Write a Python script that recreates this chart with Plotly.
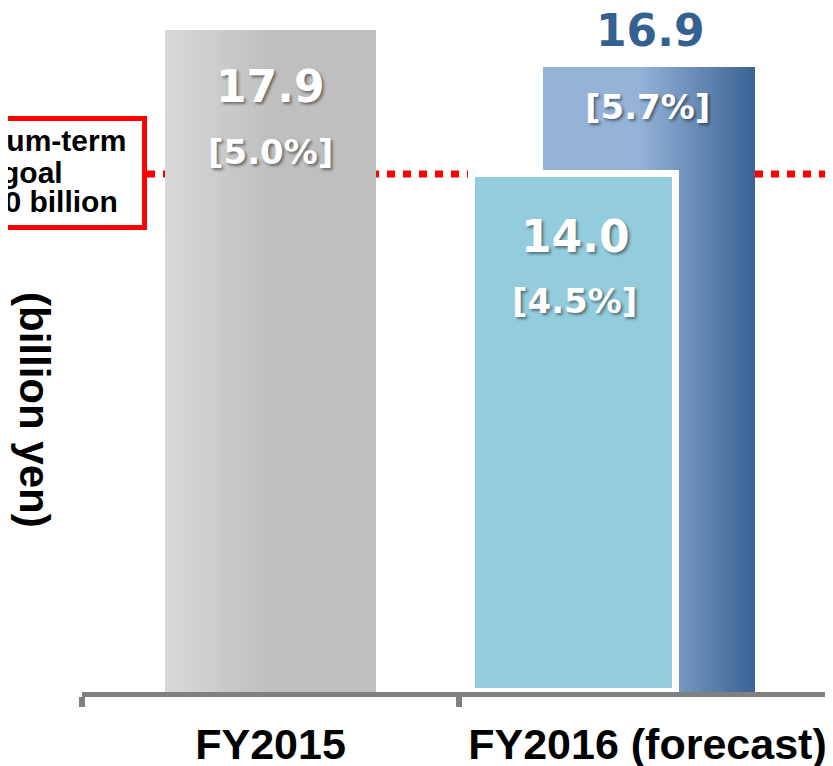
import plotly.graph_objects as go

# ---------------- data ----------------
categories = ["FY2015", "FY2016 (forecast)"]
results_2015 = [17.9]            # FY2015 result (billion yen)
pct_2015 = ["[5.0%]"]
forecast_initial = [16.9]        # FY2016 initial forecast (dark blue)
pct_initial = ["[5.7%]"]
forecast_revised = [14.0]        # FY2016 revised forecast (light blue)
pct_revised = ["[4.5%]"]
goal_value = 14.0                # medium-term goal
goal_lines = ["Medium-term", "goal", "¥14.0 billion"]
y_title = "(billion yen)"

# ---------------- geometry / style ----------------
W, H = 833, 766
OFF = 8                      # page body margin offset
ML = 82 - OFF                # plot left edge (figure px)
PB = 692 - OFF               # plot bottom (figure px)
MB = H - PB
plot_w = W - ML
plot_h = PB
cat_px = 377.0
x_range = [-0.5, -0.5 + plot_w / cat_px]
y_max = plot_h / 37.0

def fx(ref_x):
    return (ref_x - OFF - ML) / plot_w

def fy(ref_y):
    return (plot_h - (ref_y - OFF)) / plot_h

def hex2rgb(h):
    h = h.lstrip("#")
    return tuple(int(h[i:i + 2], 16) for i in (0, 2, 4))

def grad(stops, t):
    for (t0, c0), (t1, c1) in zip(stops, stops[1:]):
        if t0 <= t <= t1:
            f = 0 if t1 == t0 else (t - t0) / (t1 - t0)
            a, b = hex2rgb(c0), hex2rgb(c1)
            return "rgb(%d,%d,%d)" % tuple(round(a[k] + (b[k] - a[k]) * f) for k in range(3))
    return stops[-1][1]

gray_stops = [(0, "#d9d9d9"), (0.5, "#bfbfbf"), (1, "#bfbfbf")]
blue_stops = [(0, "#95b3d7"), (0.45, "#95b3d7"), (1, "#3a6394")]

fig = go.Figure()

def gradient_bar(cat, val, start, width, stops, n=48):
    step = width / n
    for i in range(n):
        off = start + i * step
        w = min(step * 1.6, start + width - off)
        fig.add_trace(go.Bar(
            x=[cat], y=[val], offset=off, width=w,
            marker=dict(color=grad(stops, (i + 0.5) / n), line=dict(width=0)),
            hoverinfo="skip", showlegend=False,
        ))

# FY2015 gray bar
gradient_bar(categories[0], results_2015[0], -0.281, 0.562, gray_stops)
# FY2016 initial forecast (dark blue, behind)
gradient_bar(categories[1], forecast_initial[0], -0.277, 0.562, blue_stops)
# FY2016 revised forecast (light blue, front, white border)
fig.add_trace(go.Bar(
    x=[categories[1]], y=forecast_revised, offset=-0.465, width=0.54,
    marker=dict(color="#93cddd", line=dict(color="white", width=7)),
    hoverinfo="skip", showlegend=False,
))

# goal dotted line
fig.add_shape(type="line", xref="paper", yref="y",
              x0=fx(147), x1=1.0, y0=goal_value, y1=goal_value,
              line=dict(color="#ff0000", width=7, dash="8px,8px"), layer="below")
# goal box
fig.add_shape(type="rect", xref="paper", yref="paper",
              x0=fx(-60), x1=fx(144.5),
              y0=fy(227.5), y1=fy(118.5),
              line=dict(color="#ff0000", width=5), fillcolor="white", layer="above")

box_font = dict(family="Liberation Sans, Arial", size=30, color="black", weight="bold")
for txt, yc in zip(goal_lines, [141, 172, 202]):
    fig.add_annotation(text=txt, xref="paper", yref="paper",
                       x=fx(32), y=fy(yc),
                       xanchor="center", yanchor="middle", showarrow=False,
                       font=box_font)

# y title
fig.add_annotation(text=y_title, xref="paper", yref="paper",
                   x=fx(35), y=fy(410),
                   textangle=90, showarrow=False, xanchor="center", yanchor="middle",
                   font=dict(family="Liberation Sans, Arial", size=42, color="black", weight="bold"))

shadow = "2px 2px 3px rgba(0,0,0,0.45)"
num_font = dict(family="DejaVu Sans", size=44, color="white", weight="bold", shadow=shadow)
pct_font = dict(family="DejaVu Sans", size=34, color="white", weight="bold", shadow=shadow)

def label(cat, val, text, font, dy, dx=0):
    fig.add_annotation(text=text, x=cat, y=val, xref="x", yref="y",
                       showarrow=False, xanchor="center", yanchor="middle",
                       yshift=-dy, xshift=dx, font=font)

# FY2015 labels
label(categories[0], results_2015[0], f"{results_2015[0]:.1f}", num_font, 57)
label(categories[0], results_2015[0], pct_2015[0], pct_font, 122)
# dark blue labels
label(categories[1], forecast_initial[0], f"{forecast_initial[0]:.1f}",
      dict(num_font, color="#365f92", shadow="none"), -36, 3)
label(categories[1], forecast_initial[0], pct_initial[0], pct_font, 40)
# light blue labels
label(categories[1], forecast_revised[0], f"{forecast_revised[0]:.1f}", num_font, 62, -72)
label(categories[1], forecast_revised[0], pct_revised[0], pct_font, 127, -73)

fig.update_layout(
    width=W, height=H,
    margin=dict(l=ML, r=0, t=0, b=MB, pad=0),
    paper_bgcolor="white", plot_bgcolor="white",
    barmode="overlay", bargap=0, showlegend=False,
    xaxis=dict(type="category", categoryarray=categories, range=x_range,
               tickson="boundaries", ticks="outside", ticklen=10, tickwidth=6,
               tickcolor="#808080", showline=True, linecolor="#808080", linewidth=5,
               showgrid=False, zeroline=False, automargin=False, ticklabelstandoff=10,
               tickfont=dict(family="Liberation Sans, Arial", size=43, color="black", weight="bold"),
               fixedrange=True),
    yaxis=dict(range=[0, y_max], visible=False, showgrid=False, zeroline=False,
               automargin=False, fixedrange=True),
)

fig.write_html("out.html")
